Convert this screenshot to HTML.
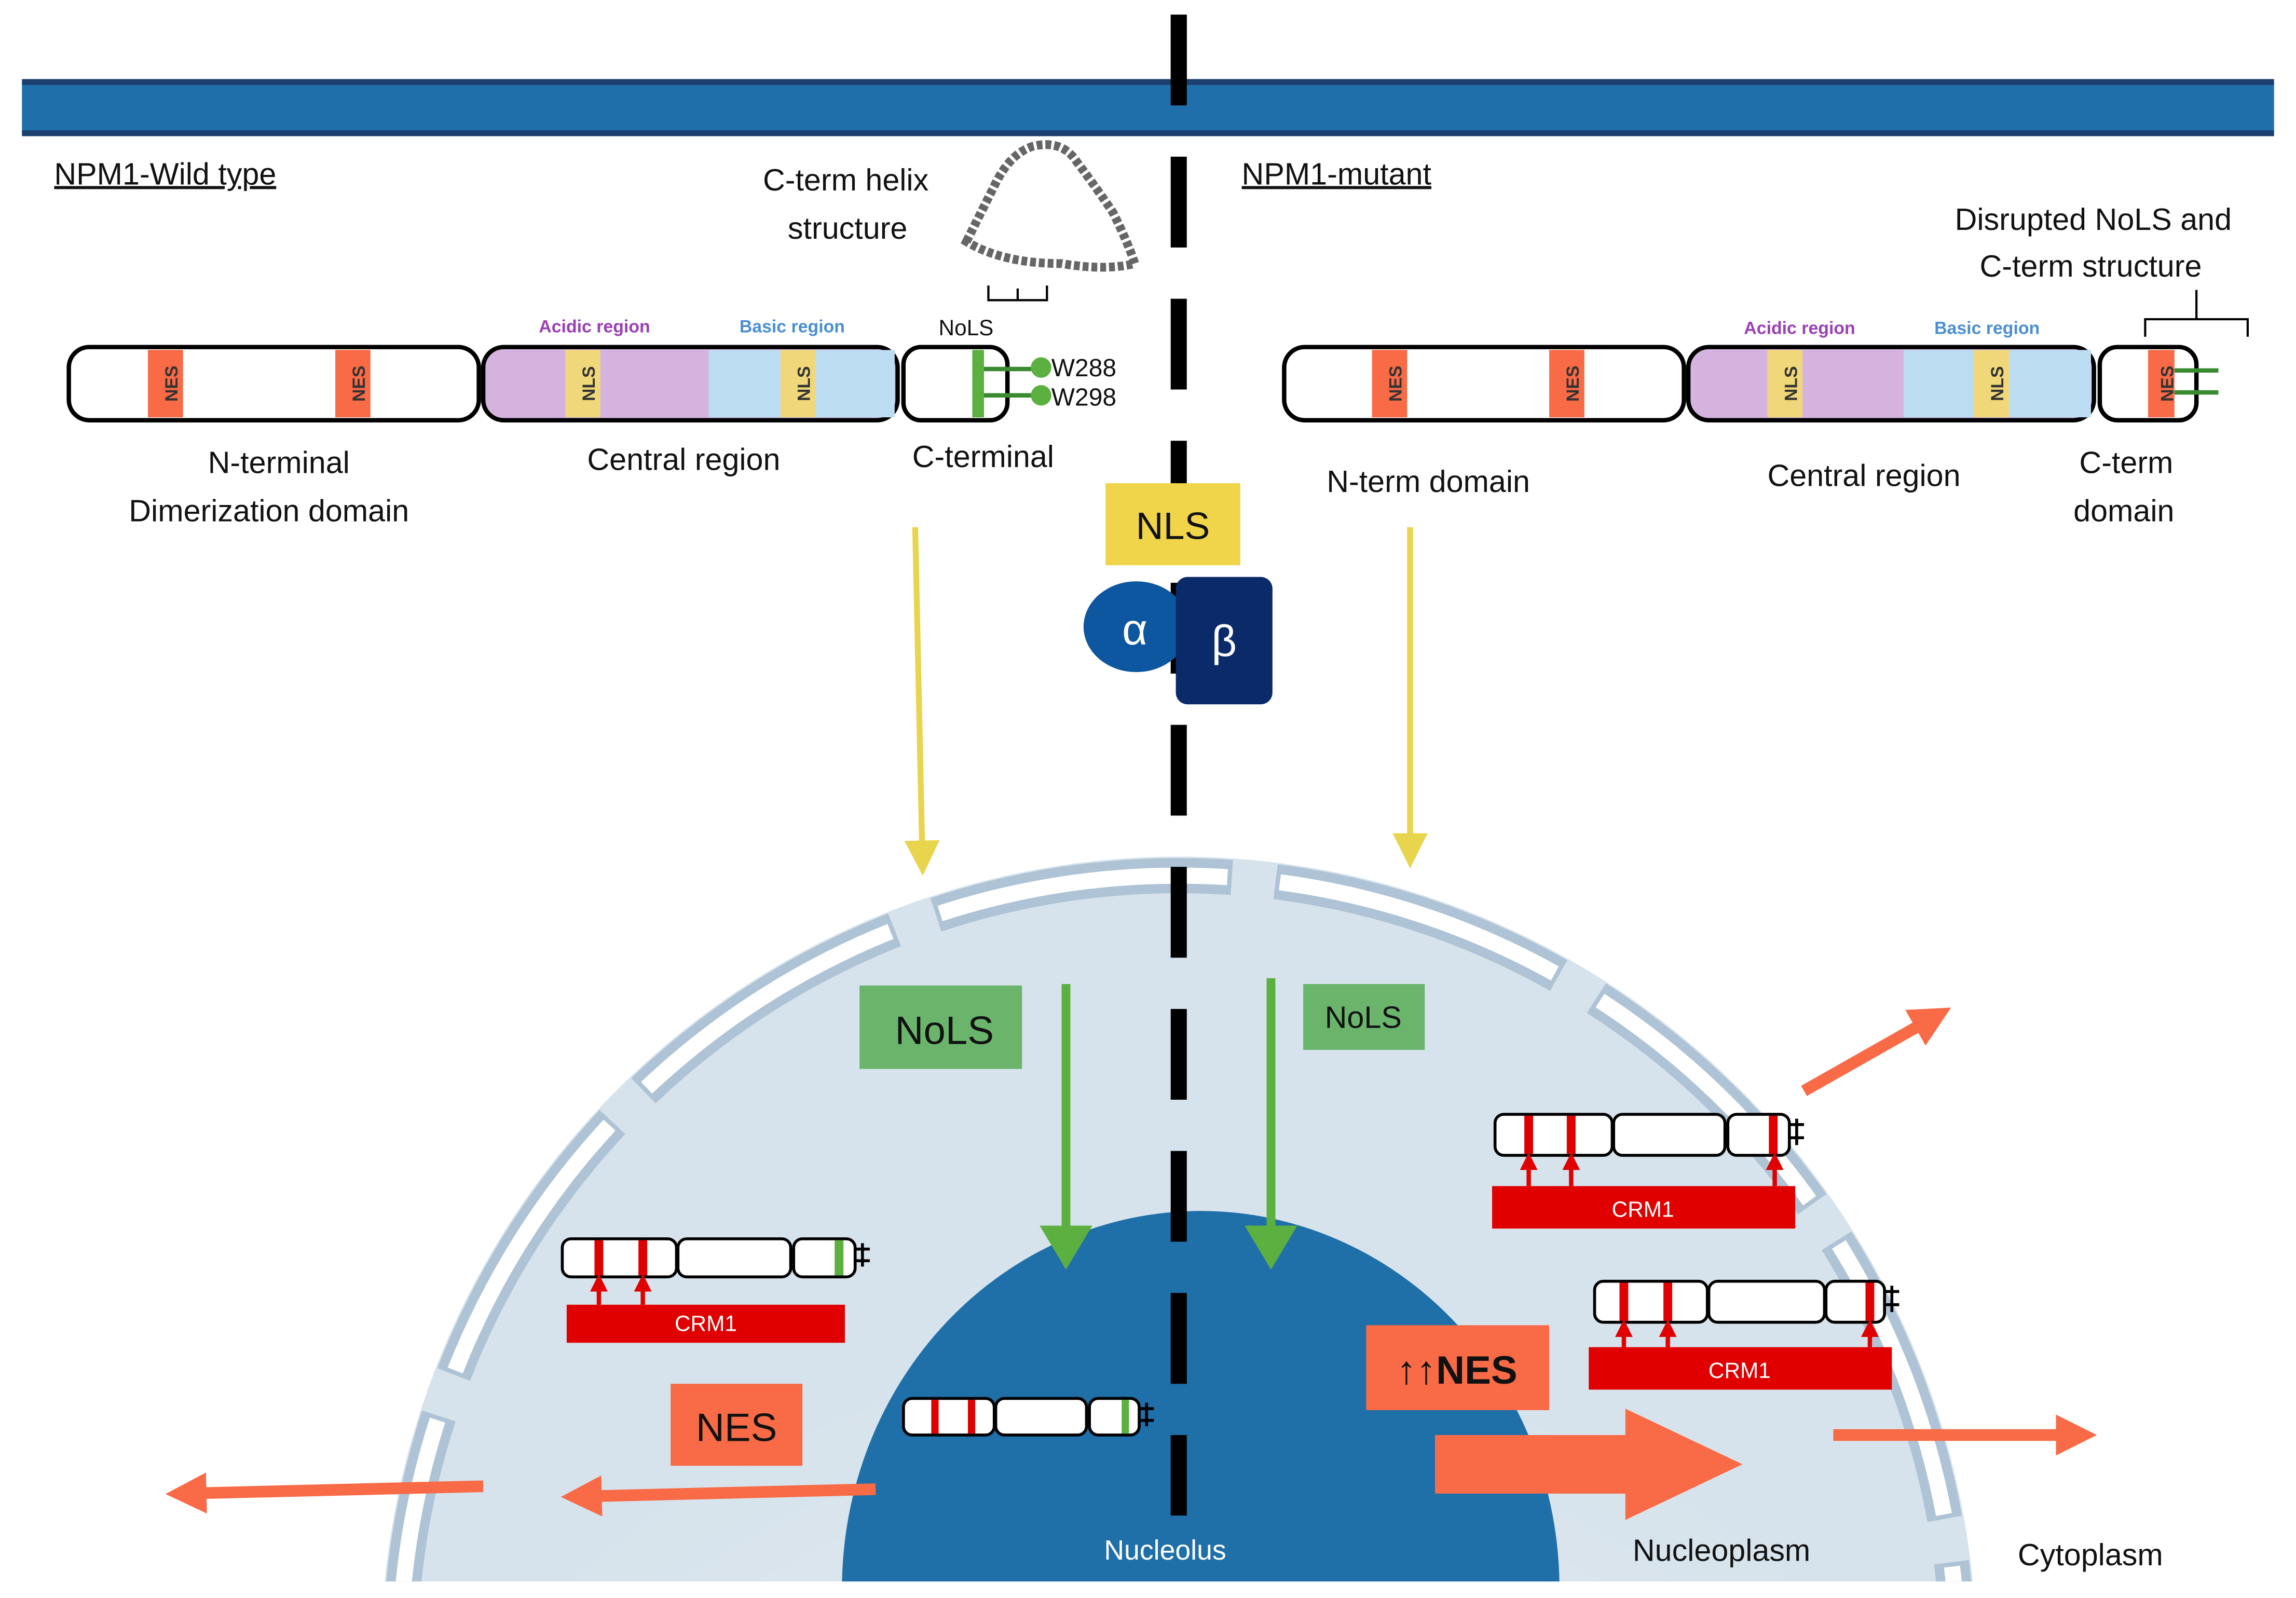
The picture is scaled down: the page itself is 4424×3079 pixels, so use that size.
<!DOCTYPE html>
<html><head><meta charset="utf-8"><style>html,body{margin:0;padding:0;background:#fff;width:4424px;height:3079px;overflow:hidden;position:relative}svg{display:block;position:absolute;left:0;top:0}</style></head><body>
<svg width="4424" height="3079" viewBox="0 0 1568 1091.3" preserveAspectRatio="none" xmlns="http://www.w3.org/2000/svg" font-family="Liberation Sans, DejaVu Sans, sans-serif" overflow="hidden">
<defs>
<clipPath id="cl"><rect x="0" y="0" width="1568" height="1080"/></clipPath>
<radialGradient id="cg" cx="0.5" cy="0.9" r="0.6"><stop offset="0" stop-color="#e9eff4"/><stop offset="1" stop-color="#d7e3ec"/></radialGradient>
<marker id="ay" markerWidth="6" markerHeight="6" refX="4" refY="3" orient="auto" markerUnits="strokeWidth"><path d="M0,0 L6,3 L0,6 z" fill="#e8d44d"/></marker>
<marker id="ag" markerWidth="5" markerHeight="6" refX="3" refY="3" orient="auto" markerUnits="strokeWidth"><path d="M0,0 L5,3 L0,6 z" fill="#5cb040"/></marker>
<marker id="ao" markerWidth="3.5" markerHeight="3.5" refX="2" refY="1.75" orient="auto" markerUnits="strokeWidth"><path d="M0,0 L3.5,1.75 L0,3.5 z" fill="#f96a46"/></marker>
<marker id="ar" markerWidth="4" markerHeight="4" refX="2" refY="2" orient="auto" markerUnits="strokeWidth"><path d="M0,0 L4,2 L0,4 z" fill="#e00000"/></marker>
</defs>
<rect width="1568" height="1091" fill="#fff"/>
<g clip-path="url(#cl)">
<ellipse cx="805" cy="1135" rx="545" ry="550" fill="url(#cg)"/>
<ellipse cx="805" cy="1135" rx="532" ry="537" fill="none" stroke="#aec3d5" stroke-width="24" stroke-dasharray="205 30"/>
<ellipse cx="805" cy="1135" rx="532" ry="537" fill="none" stroke="#fff" stroke-width="11" stroke-dasharray="199 36" stroke-dashoffset="-3"/>
<ellipse cx="820" cy="1085" rx="245" ry="258" fill="#1f6fa8"/>
</g>
<line x1="805" y1="10" x2="805" y2="1035" stroke="#000" stroke-width="11" stroke-dasharray="62 35"/>
<rect x="15" y="56" width="1538" height="36" fill="#1f70aa"/>
<rect x="15" y="54" width="1538" height="4" fill="#1b3f6e"/>
<rect x="15" y="89" width="1538" height="4" fill="#1b3f6e"/>
<line x1="805" y1="10" x2="805" y2="72" stroke="#000" stroke-width="11"/>
<g font-size="21" fill="#111">
<text x="37" y="126" text-decoration="underline">NPM1-Wild type</text>
<text x="848" y="126" text-decoration="underline">NPM1-mutant</text>
<text x="521" y="130">C-term helix</text>
<text x="538" y="163">structure</text>
<text x="1335" y="157">Disrupted NoLS and</text>
<text x="1352" y="189">C-term structure</text>
<text x="142" y="323">N-terminal</text>
<text x="88" y="356">Dimerization domain</text>
<text x="401" y="321">Central region</text>
<text x="623" y="319">C-terminal</text>
<text x="906" y="336">N-term domain</text>
<text x="1207" y="332">Central region</text>
<text x="1420" y="323">C-term</text>
<text x="1416" y="356">domain</text>
<text x="1115" y="1066">Nucleoplasm</text>
<text x="1378" y="1069">Cytoplasm</text>
</g>
<text x="754" y="1065" font-size="19" fill="#fff">Nucleolus</text>
<path d="M660,165 q10,-20 20,-40 q10,-20 25,-25 q20,-5 30,10 q15,20 25,35 q10,20 15,35 q-20,5 -50,0 q-40,0 -65,-15z" fill="none" stroke="#666" stroke-width="6" stroke-dasharray="4 2"/>
<path d="M675,195 v10 h40 v-10 M695,205 v-8" fill="none" stroke="#000" stroke-width="1.5"/>
<path d="M1465,230 v-12 h70 v12 M1500,218 v-20" fill="none" stroke="#000" stroke-width="1.5"/>
<g stroke="#000" stroke-width="3">
<rect x="47" y="237" width="280" height="50" rx="14" fill="#fff"/>
<rect x="330" y="237" width="283" height="50" rx="14" fill="#d4b4df"/>
<rect x="617" y="237" width="71" height="50" rx="12" fill="#fff"/>
<rect x="877" y="237" width="273" height="50" rx="14" fill="#fff"/>
<rect x="1153" y="237" width="277" height="50" rx="14" fill="#d4b4df"/>
<rect x="1434" y="237" width="66" height="50" rx="12" fill="#fff"/>
</g>
<rect x="484" y="239" width="127" height="46" fill="#bcdcf1"/>
<rect x="1300" y="239" width="128" height="46" fill="#bcdcf1"/>
<g fill="#f96a46"><rect x="101" y="239" width="24" height="46"/><rect x="229" y="239" width="24" height="46"/><rect x="937" y="239" width="24" height="46"/><rect x="1058" y="239" width="24" height="46"/><rect x="1467" y="239" width="18" height="46"/></g>
<g fill="#f0d87a"><rect x="386" y="239" width="24" height="46"/><rect x="533" y="239" width="24" height="46"/><rect x="1207" y="239" width="24" height="46"/><rect x="1348" y="239" width="24" height="46"/></g>
<rect x="664" y="239" width="8" height="46" fill="#5cb040"/>
<g font-size="12" font-weight="bold" fill="#333">
<text transform="translate(118,262) rotate(-90)" text-anchor="middle" dominant-baseline="middle">NES</text>
<text transform="translate(246,262) rotate(-90)" text-anchor="middle" dominant-baseline="middle">NES</text>
<text transform="translate(954,262) rotate(-90)" text-anchor="middle" dominant-baseline="middle">NES</text>
<text transform="translate(1075,262) rotate(-90)" text-anchor="middle" dominant-baseline="middle">NES</text>
<text transform="translate(1481,262) rotate(-90)" text-anchor="middle" dominant-baseline="middle">NES</text>
<text transform="translate(403,262) rotate(-90)" text-anchor="middle" dominant-baseline="middle">NLS</text>
<text transform="translate(550,262) rotate(-90)" text-anchor="middle" dominant-baseline="middle">NLS</text>
<text transform="translate(1224,262) rotate(-90)" text-anchor="middle" dominant-baseline="middle">NLS</text>
<text transform="translate(1365,262) rotate(-90)" text-anchor="middle" dominant-baseline="middle">NLS</text>
</g>
<g font-size="12" font-weight="bold"><text x="368" y="227" fill="#9b3fb5">Acidic region</text><text x="505" y="227" fill="#4a8fd0">Basic region</text><text x="1191" y="228" fill="#9b3fb5">Acidic region</text><text x="1321" y="228" fill="#4a8fd0">Basic region</text></g>
<text x="641" y="229" font-size="15" fill="#111">NoLS</text>
<g stroke="#3a8a30" stroke-width="3"><line x1="672" y1="252" x2="710" y2="252"/><line x1="672" y1="270" x2="710" y2="270"/><line x1="1485" y1="253" x2="1515" y2="253"/><line x1="1485" y1="268" x2="1515" y2="268"/></g>
<circle cx="711" cy="251" r="7" fill="#5cb040"/><circle cx="711" cy="270" r="7" fill="#5cb040"/>
<text x="718" y="257" font-size="17" fill="#111">W288</text><text x="718" y="277" font-size="17" fill="#111">W298</text>
<rect x="755" y="330" width="92" height="56" fill="#f0d44a"/>
<text x="801" y="368" font-size="26" text-anchor="middle" fill="#111">NLS</text>
<ellipse cx="776" cy="428" rx="36" ry="31" fill="#0d56a0"/>
<text x="775" y="440" font-size="30" text-anchor="middle" fill="#fff">α</text>
<rect x="803" y="394" width="66" height="87" rx="8" fill="#0b2a6a"/>
<text x="836" y="448" font-size="30" text-anchor="middle" fill="#fff">β</text>
<g stroke-width="4" fill="none">
<line x1="625" y1="360" x2="630" y2="590" stroke="#e8d44d" marker-end="url(#ay)"/>
<line x1="963" y1="360" x2="963" y2="585" stroke="#e8d44d" marker-end="url(#ay)"/>
<line x1="728" y1="672" x2="728" y2="855" stroke="#5cb040" stroke-width="6" marker-end="url(#ag)"/>
<line x1="868" y1="668" x2="868" y2="855" stroke="#5cb040" stroke-width="6" marker-end="url(#ag)"/>
<line x1="598" y1="1017" x2="395" y2="1022" stroke="#f96a46" stroke-width="8" marker-end="url(#ao)"/>
<line x1="330" y1="1015" x2="125" y2="1020" stroke="#f96a46" stroke-width="8" marker-end="url(#ao)"/>
<line x1="1252" y1="980" x2="1420" y2="980" stroke="#f96a46" stroke-width="8" marker-end="url(#ao)"/>
<line x1="1232" y1="745" x2="1322" y2="694" stroke="#f96a46" stroke-width="8" marker-end="url(#ao)"/>
</g>
<path d="M980,980 h130 v-18 l80,38 l-80,38 v-18 h-130z" fill="#f96a46"/>
<rect x="587" y="673" width="111" height="57" fill="#6ab46c"/><text x="645" y="713" font-size="27" text-anchor="middle" fill="#111">NoLS</text>
<rect x="890" y="672" width="83" height="45" fill="#6ab46c"/><text x="931" y="702" font-size="21" text-anchor="middle" fill="#111">NoLS</text>
<rect x="458" y="945" width="90" height="56" fill="#f96a46"/><text x="503" y="984" font-size="27" text-anchor="middle" fill="#111">NES</text>
<rect x="933" y="905" width="125" height="58" fill="#f96a46"/><text x="995" y="945" font-size="27" text-anchor="middle" fill="#111">↑↑<tspan font-weight="bold">NES</tspan></text>
<g stroke="#000" stroke-width="2" fill="#fff">
<rect x="384" y="846" width="78" height="26" rx="6"/><rect x="463" y="846" width="77" height="26" rx="6"/><rect x="542" y="846" width="42" height="26" rx="6"/>
</g>
<g fill="#e00000"><rect x="406" y="847" width="6" height="24"/><rect x="436" y="847" width="6" height="24"/></g><rect x="570" y="847" width="6" height="24" fill="#5cb040"/>
<path d="M584,853h10M584,861h10M589,849v16" stroke="#000" stroke-width="2"/>
<rect x="387" y="891" width="190" height="26" fill="#e00000"/><text x="482" y="909" font-size="15" text-anchor="middle" fill="#fff">CRM1</text>
<g stroke="#e00000" stroke-width="3"><line x1="409" y1="891" x2="409" y2="876" marker-end="url(#ar)"/><line x1="439" y1="891" x2="439" y2="876" marker-end="url(#ar)"/></g>
<g stroke="#000" stroke-width="2" fill="#fff">
<rect x="617" y="955" width="62" height="25" rx="6"/><rect x="680" y="955" width="62" height="25" rx="6"/><rect x="744" y="955" width="34" height="25" rx="6"/>
<rect x="1021" y="761" width="80" height="28" rx="6"/><rect x="1102" y="761" width="76" height="28" rx="6"/><rect x="1180" y="761" width="42" height="28" rx="6"/>
<rect x="1089" y="875" width="77" height="28" rx="6"/><rect x="1167" y="875" width="79" height="28" rx="6"/><rect x="1247" y="875" width="40" height="28" rx="6"/>
</g>
<g fill="#e00000"><rect x="636" y="956" width="5" height="23"/><rect x="661" y="956" width="5" height="23"/><rect x="1041" y="762" width="6" height="26"/><rect x="1070" y="762" width="6" height="26"/><rect x="1208" y="762" width="6" height="26"/><rect x="1106" y="876" width="6" height="26"/><rect x="1136" y="876" width="6" height="26"/><rect x="1274" y="876" width="6" height="26"/></g>
<rect x="766" y="956" width="5" height="23" fill="#5cb040"/>
<path d="M778,962h10M778,970h10M783,958v16 M1222,768h10M1222,777h10M1227,764v18 M1287,882h10M1287,891h10M1292,878v18" stroke="#000" stroke-width="2"/>
<rect x="1019" y="810" width="207" height="29" fill="#e00000"/><text x="1122" y="831" font-size="15" text-anchor="middle" fill="#fff">CRM1</text>
<rect x="1085" y="920" width="207" height="29" fill="#e00000"/><text x="1188" y="941" font-size="15" text-anchor="middle" fill="#fff">CRM1</text>
<g stroke="#e00000" stroke-width="3"><line x1="1044" y1="810" x2="1044" y2="793" marker-end="url(#ar)"/><line x1="1073" y1="810" x2="1073" y2="793" marker-end="url(#ar)"/><line x1="1212" y1="810" x2="1212" y2="793" marker-end="url(#ar)"/>
<line x1="1109" y1="920" x2="1109" y2="907" marker-end="url(#ar)"/><line x1="1139" y1="920" x2="1139" y2="907" marker-end="url(#ar)"/><line x1="1277" y1="920" x2="1277" y2="907" marker-end="url(#ar)"/></g>
</svg>
</body></html>
